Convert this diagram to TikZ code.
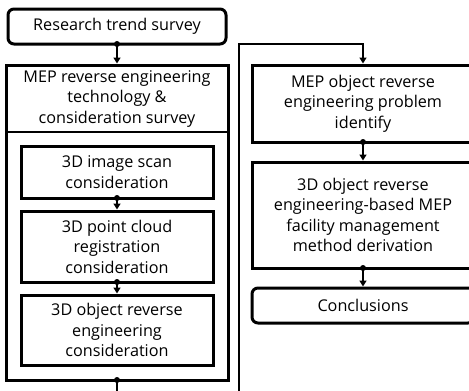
\documentclass[tikz,border=0pt]{standalone}
\usepackage{fontspec}
\setmainfont{Open Sans}
\usetikzlibrary{arrows.meta}
\begin{document}
\begin{tikzpicture}[x=1pt,y=-1pt,
  txt/.style={align=center, inner sep=0pt, outer sep=0pt, font=\fontsize{16.2}{20.5}\selectfont},
  box/.style={txt, draw, line width=3pt, minimum width=#1},
  box/.default=192pt,
  rbox/.style={box=#1, rounded corners=6pt},
  conn/.style={line width=2pt, -{Triangle[width=7pt,length=6pt]}, shorten >=1.5pt},
  dot/.style={fill=black}]
\useasboundingbox (0,0) rectangle (469,391);
\begin{scope}
\clip (0,0) rectangle (469,391);
\node[rbox=218pt, minimum height=35pt] (res) at (117,26.5) {Research trend survey};
\node[box=222pt, minimum height=315pt] (outer) at (117,222.5) {};
\node[txt, minimum width=222pt, minimum height=67pt] (hdr) at (117,98.5) {MEP reverse engineering\\technology \&\\consideration survey};
\draw[line width=2.5pt] (hdr.south west) -- (hdr.south east);
\node[box, minimum height=52pt] (img) at (117,172) {3D image scan\\consideration};
\node[box, minimum height=71pt] (pc) at (117,246.5) {3D point cloud\\registration\\consideration};
\node[box, minimum height=70pt] (obj) at (117,330) {3D object reverse\\engineering\\consideration};
\node[box=222pt, minimum height=77pt] (r1) at (363,103.5) {MEP object reverse\\engineering problem\\identify};
\node[box=222pt, minimum height=106pt] (r2) at (363,215) {3D object reverse\\engineering-based MEP\\facility management\\method derivation};
\node[rbox=222pt, minimum height=35pt] (con) at (363,305.5) {Conclusions};
\coordinate (c1) at (117,400);
\coordinate (c2) at (239,400);
\coordinate (c3) at (239,44);
\coordinate (c4) at (363,44);
\draw[conn] (res.south) -- (outer.north);
\draw[conn] (img.south) -- (pc.north);
\draw[conn] (pc.south) -- (obj.north);
\draw[conn] (r1.south) -- (r2.north);
\draw[conn] (r2.south) -- (con.north);
\draw[conn, line width=1.8pt] (outer.south) -- (c1) -- (c2) -- (c3) -- (c4) -- (r1.north);
\foreach \n in {res,img,pc,outer,r1,r2} \fill[dot] (\n.south) circle (3pt);
\end{scope}
\end{tikzpicture}
\end{document}
